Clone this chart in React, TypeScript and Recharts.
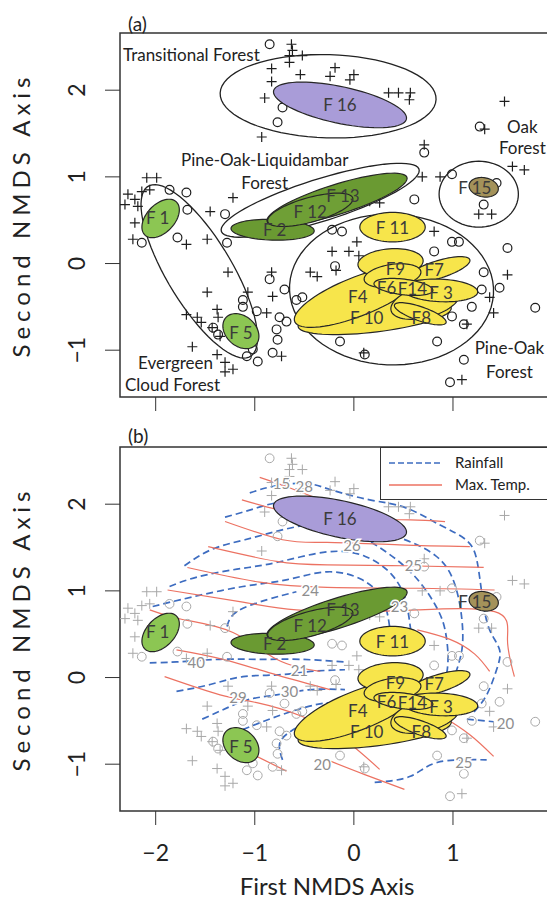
import React from "react";
import { ScatterChart, Scatter, XAxis, YAxis, ReferenceArea, Legend } from "recharts";

const FONT = "Lato, 'DejaVu Sans', sans-serif";
const BLUE = "#3d6cc0";
const RED = "#ec7262";

const X_DOMAIN: [number, number] = [-2.36, 2.08];
const Y_DOMAIN: [number, number] = [-1.54, 2.66];
const X_TICKS = [-2, -1, 0, 1];
const Y_TICKS = [-1, 0, 1, 2];

// site scores
const crossSites: [number, number][] = [
  [-0.63, 2.53], [-0.62, 2.46], [-0.65, 2.4], [-0.52, 2.4], [-0.65, 2.32], [-0.83, 2.25], [-0.83, 2.1],
  [-0.9, 1.91], [-0.54, 2.18], [-0.93, 1.46], [-0.19, 2.26], [-0.24, 2.16], [0.0, 2.18], [-0.04, 2.12],
  [0.35, 1.97], [0.45, 1.97], [0.57, 1.97], [0.56, 1.89], [1.52, 1.87], [1.32, 1.55], [0.71, 1.37],
  [0.69, 1.0], [0.87, 1.0], [1.6, 1.12], [1.72, 1.08], [1.26, 0.57], [1.39, 0.57], [0.26, 0.7],
  [-2.09, 0.99], [-1.99, 0.99], [-2.06, 0.85], [-2.14, 0.83], [-2.28, 0.8], [-2.21, 0.74], [-2.31, 0.68],
  [-2.18, 0.66], [-1.22, 0.76], [-1.45, 0.6], [-2.21, 0.47], [-2.23, 0.28], [-1.69, 0.22], [-1.48, 0.28],
  [-1.27, -0.1], [-1.48, -0.33], [-1.69, -0.59], [-1.58, -0.62], [-1.54, -0.68], [-1.38, -0.53],
  [-1.37, -0.62], [-1.43, -0.74], [-1.35, -0.84], [-1.63, -0.96], [-1.38, -1.05], [-1.3, -1.14],
  [-1.22, -1.22], [-1.3, -1.25], [-1.07, -0.33], [-0.88, -0.57], [-0.73, -1.07], [-0.83, -0.1],
  [-0.82, -0.38], [-0.44, -0.1], [-0.37, -0.15], [-0.44, -0.53], [0.03, 0.25], [-0.22, 0.14],
  [-0.05, 0.14], [0.81, 0.37], [1.55, -0.13], [1.37, -0.39], [1.41, -0.57], [1.14, -0.7], [0.1, -1.03],
  [1.09, -1.34], [-0.18, -0.08], [0.16, 0.72], [0.05, 0.09],
];

const circleSites: [number, number][] = [
  [-0.85, 2.53], [-0.72, 1.8], [-0.77, 1.63], [1.27, 1.58], [0.71, 1.28], [0.99, 1.03], [1.44, 0.93],
  [1.31, 0.68], [0.61, 0.74], [-1.86, 0.85], [-1.69, 0.82], [-1.68, 0.62], [-1.3, 0.57], [-2.14, 0.24],
  [-1.78, 0.3], [-1.28, 0.24], [-1.42, -0.74], [-1.37, -0.82], [-1.08, -1.07], [-0.97, -1.13],
  [-1.02, -0.99], [-1.12, -0.42], [-1.12, -0.5], [-0.98, -0.55], [-0.75, -0.62], [-0.68, -0.67],
  [-0.78, -0.76], [-0.77, -0.88], [-0.82, -1.03], [-0.85, -0.18], [-0.7, -0.3], [-0.58, -0.42],
  [-0.52, -0.39], [-0.22, 0.39], [-0.12, 0.37], [0.81, 0.14], [0.99, 0.25], [1.06, 0.25], [1.55, 0.18],
  [1.31, -0.1], [1.47, -0.28], [1.29, -0.3], [1.83, -0.51], [1.19, -0.5], [1.11, -0.7], [0.99, -0.61],
  [0.84, -0.9], [-0.14, -0.9], [0.11, -1.05], [1.11, -1.11], [0.97, -1.37], [-0.19, -0.03],
];

// forest-type groups (centre, semi-axes, tilt in degrees)
const groupRings = [
  { id: "transitional", x: -0.26, y: 1.93, a: 1.09, b: 0.48, angle: -2 },
  { id: "oak", x: 1.26, y: 0.8, a: 0.4, b: 0.38, angle: 0 },
  { id: "pineOakLiq", x: -0.34, y: 0.73, a: 1.06, b: 0.24, angle: 20 },
  { id: "evergreen", x: -1.56, y: -0.09, a: 1.11, b: 0.34, angle: -63 },
  { id: "pineOak", x: 0.38, y: -0.3, a: 1.03, b: 0.87, angle: -3 },
];

const forestEllipses = [
  { id: "F16", x: -0.14, y: 1.83, a: 0.69, b: 0.21, angle: -14 },
  { id: "F15", x: 1.31, y: 0.88, a: 0.15, b: 0.11, angle: -15 },
  { id: "F1", x: -1.95, y: 0.52, a: 0.25, b: 0.15, angle: 55 },
  { id: "F5", x: -1.14, y: -0.78, a: 0.22, b: 0.16, angle: -55 },
  { id: "F2", x: -0.82, y: 0.39, a: 0.42, b: 0.12, angle: -2 },
  { id: "F13", x: -0.17, y: 0.74, a: 0.75, b: 0.17, angle: 20 },
  { id: "F12", x: -0.44, y: 0.62, a: 0.45, b: 0.14, angle: 18 },
  { id: "F11", x: 0.39, y: 0.42, a: 0.33, b: 0.17, angle: 0 },
  { id: "F10", x: 0.21, y: -0.62, a: 0.78, b: 0.17, angle: 8 },
  { id: "F4", x: 0.04, y: -0.38, a: 0.7, b: 0.22, angle: 25 },
  { id: "F14", x: 0.72, y: -0.44, a: 0.36, b: 0.18, angle: 18 },
  { id: "F7", x: 0.85, y: -0.07, a: 0.34, b: 0.1, angle: 20 },
  { id: "F3", x: 0.87, y: -0.31, a: 0.38, b: 0.13, angle: -3 },
  { id: "F8", x: 0.67, y: -0.58, a: 0.28, b: 0.08, angle: -22 },
  { id: "F9", x: 0.37, y: 0.01, a: 0.33, b: 0.16, angle: 5 },
  { id: "F6", x: 0.39, y: -0.14, a: 0.29, b: 0.13, angle: 10 },
  { id: "F14b", x: 0.5, y: -0.27, a: 0.3, b: 0.09, angle: -8 },
];

const forestFill: Record<string, string> = {
  F16: "#a99cd8", F15: "#a4925a", F1: "#8cc653", F5: "#8cc653",
  F2: "#6a9a32", F13: "#6a9a32", F12: "#6f9f36",
};
const YELLOW = "#f7e54b";

const forestLabels = [
  { text: "F 16", x: -0.14, y: 1.83 }, { text: "F 15", x: 1.22, y: 0.88 }, { text: "F 13", x: -0.11, y: 0.78 },
  { text: "F 12", x: -0.44, y: 0.6 }, { text: "F 2", x: -0.8, y: 0.39 }, { text: "F 1", x: -1.98, y: 0.53 },
  { text: "F 5", x: -1.14, y: -0.8 }, { text: "F 11", x: 0.39, y: 0.42 }, { text: "F9", x: 0.42, y: -0.06 },
  { text: "F7", x: 0.81, y: -0.07 }, { text: "F6", x: 0.33, y: -0.28 }, { text: "F14", x: 0.59, y: -0.29 },
  { text: "F 3", x: 0.88, y: -0.33 }, { text: "F4", x: 0.04, y: -0.38 }, { text: "F 10", x: 0.13, y: -0.62 },
  { text: "F8", x: 0.68, y: -0.62 },
];

const groupLabels = [
  { text: "Transitional Forest", x: -2.33, y: 2.41, anchor: "start" },
  { text: "Pine-Oak-Liquidambar", x: -0.9, y: 1.2, anchor: "middle" },
  { text: "Forest", x: -0.9, y: 0.93, anchor: "middle" },
  { text: "Oak", x: 1.7, y: 1.58, anchor: "middle" },
  { text: "Forest", x: 1.7, y: 1.34, anchor: "middle" },
  { text: "Evergreen", x: -1.8, y: -1.14, anchor: "middle" },
  { text: "Cloud Forest", x: -1.83, y: -1.4, anchor: "middle" },
  { text: "Pine-Oak", x: 1.57, y: -0.97, anchor: "middle" },
  { text: "Forest", x: 1.57, y: -1.25, anchor: "middle" },
];

// climate isolines fitted on the ordination (panel b)
const rainfallLines: [number, number][][] = [
  [[-1.05, 2.13], [-0.8, 2.21], [-0.49, 2.24], [-0.24, 2.17], [0.16, 2.05], [0.52, 1.96], [0.87, 1.76], [1.15, 1.57], [1.25, 1.3], [1.3, 0.9], [1.37, 0.55], [1.47, 0.32], [1.44, 0.09], [1.34, -0.2], [1.21, -0.4]],
  [[-1.3, 1.85], [-1.0, 1.95], [-0.7, 2.02], [-0.34, 1.91], [0.06, 1.73], [0.41, 1.63], [0.82, 1.41], [1.02, 1.07], [1.09, 0.67], [1.09, 0.32], [1.02, 0.03]],
  [[-1.71, 1.29], [-1.43, 1.48], [-1.1, 1.59], [-0.7, 1.71], [-0.27, 1.76], [0.16, 1.57], [0.57, 1.22], [0.82, 0.84], [0.92, 0.55], [0.95, 0.21], [0.92, -0.05]],
  [[-1.86, 1.05], [-1.58, 1.16], [-1.18, 1.25], [-0.77, 1.33], [-0.27, 1.45], [0.11, 1.4], [0.38, 1.19], [0.52, 0.9], [0.57, 0.58], [0.62, 0.25]],
  [[-2.03, 0.82], [-1.63, 0.93], [-1.12, 1.05], [-0.67, 1.13], [-0.27, 1.22], [0.08, 1.13], [0.29, 0.9], [0.36, 0.59]],
  [[-1.28, 0.59], [-1.18, 0.76], [-0.87, 0.9], [-0.58, 0.99]],
  [[-2.06, 0.17], [-1.79, 0.18], [-1.35, 0.21], [-0.95, 0.21], [-0.55, 0.21], [-0.09, 0.18]],
  [[-1.79, -0.16], [-1.45, -0.08], [-1.12, 0.01], [-0.78, 0.03], [-0.44, 0.07], [-0.09, 0.09]],
  [[-1.53, -0.48], [-1.28, -0.35], [-1.05, -0.25], [-0.78, -0.2], [-0.44, -0.14], [-0.09, -0.14]],
  [[-1.12, -0.6], [-0.78, -0.45], [-0.37, -0.31], [-0.09, -0.29]],
  [[-0.72, -0.95], [-0.75, -0.77], [-0.65, -0.63], [-0.44, -0.51], [-0.19, -0.43]],
  [[0.21, -1.21], [0.57, -1.14], [0.84, -0.98], [1.34, -0.95]],
  [[1.14, -0.48], [1.41, -0.51]],
];

const maxTempLines: [number, number][][] = [
  [[-0.95, 2.31], [-0.65, 2.19], [-0.29, 2.03], [0.01, 1.9]],
  [[-1.13, 2.05], [-0.78, 1.94], [-0.34, 1.85], [0.13, 1.82], [0.57, 1.82], [0.92, 1.8]],
  [[-1.3, 1.8], [-0.72, 1.59], [-0.27, 1.56], [0.46, 1.53], [1.17, 1.51]],
  [[-1.47, 1.51], [-0.78, 1.34], [-0.27, 1.3], [0.51, 1.29], [1.31, 1.27]],
  [[-1.68, 1.27], [-0.95, 1.1], [-0.27, 1.04], [0.64, 1.03], [1.42, 1.01]],
  [[-1.88, 1.01], [-1.12, 0.87], [-0.58, 0.78], [0.06, 0.76], [0.64, 0.78], [1.42, 0.76], [1.55, 0.44], [1.62, 0.01]],
  [[-2.06, 0.78], [-1.73, 0.67], [-1.22, 0.52], [-0.78, 0.21], [-0.34, 0.07]],
  [[-1.79, 0.32], [-1.32, 0.21], [-0.78, 0.03], [-0.24, -0.14]],
  [[-1.91, 0.01], [-1.35, -0.2], [-0.98, -0.29], [-0.52, -0.45], [-0.09, -0.72], [0.26, -1.06]],
  [[-0.27, -0.95], [0.11, -1.12], [0.51, -1.29]],
  [[-1.12, -0.83], [-0.68, -1.08]],
  [[0.87, -0.43], [1.17, -0.66], [1.41, -0.91]],
  [[0.64, 0.55], [0.97, 0.44], [1.22, 0.27], [1.37, 0.07]],
];

const isolineLabels = [
  { text: "15", x: -0.73, y: 2.24 }, { text: "28", x: -0.5, y: 2.21 }, { text: "26", x: -0.02, y: 1.53 },
  { text: "25", x: 0.6, y: 1.3 }, { text: "24", x: -0.44, y: 1.01 }, { text: "23", x: 0.46, y: 0.82 },
  { text: "40", x: -1.59, y: 0.18 }, { text: "21", x: -0.55, y: 0.09 }, { text: "30", x: -0.65, y: -0.16 },
  { text: "29", x: -1.17, y: -0.23 }, { text: "20", x: -0.32, y: -1.0 }, { text: "20", x: 1.53, y: -0.52 },
  { text: "25", x: 1.11, y: -0.97 },
];

type Ell = { id: string; x: number; y: number; a: number; b: number; angle: number };

const toXY = (pairs: [number, number][]) => pairs.map(([x, y]) => ({ x, y }));

function outline(e: Ell) {
  const th = (e.angle * Math.PI) / 180;
  const pts = [];
  for (let i = 0; i < 72; i++) {
    const t = (i / 72) * 2 * Math.PI;
    const u = e.a * Math.cos(t);
    const v = e.b * Math.sin(t);
    pts.push({ x: e.x + u * Math.cos(th) - v * Math.sin(th), y: e.y + u * Math.sin(th) + v * Math.cos(th) });
  }
  return pts;
}

const noMark = () => <g />;

const closedPath = (fill: string, stroke: string, width: number) => (p: any) => {
  const d = p.points.map((q: any, i: number) => `${i ? "L" : "M"}${q.x},${q.y}`).join("") + "Z";
  return <path d={d} fill={fill} stroke={stroke} strokeWidth={width} />;
};

const crossShape = (color: string, w: number) => (p: any) => (
  <path d={`M${p.cx - 5},${p.cy}H${p.cx + 5}M${p.cx},${p.cy - 5}V${p.cy + 5}`} stroke={color} strokeWidth={w} fill="none" />
);
const ringShape = (color: string, w: number) => (p: any) => (
  <circle cx={p.cx} cy={p.cy} r={4.4} stroke={color} strokeWidth={w} fill="none" />
);

const textShape = (size: number, color: string, halo = false) => (p: any) => (
  <text
    x={p.cx}
    y={p.cy}
    textAnchor={p.payload.anchor ?? "middle"}
    dominantBaseline="central"
    fontFamily={FONT}
    fontSize={size}
    fill={color}
    stroke={halo ? "#fff" : undefined}
    strokeWidth={halo ? 3 : undefined}
    paintOrder="stroke"
  >
    {p.payload.text}
  </text>
);

const fmt = (v: number) => (v < 0 ? `\u2212${Math.abs(v)}` : `${v}`);

const YTick = (p: any) => (
  <text x={76} y={p.y} transform={`rotate(-90 76 ${p.y})`} textAnchor="middle" dominantBaseline="central" fontFamily={FONT} fontSize={23} fill="#222">
    {fmt(p.payload.value)}
  </text>
);
const XTick = (p: any) => (
  <text x={p.x} y={438} textAnchor="middle" dominantBaseline="central" fontFamily={FONT} fontSize={23} fill="#222">
    {fmt(p.payload.value)}
  </text>
);

const yTitle = () => (
  <text x={20} y={215} transform="rotate(-90 20 215)" textAnchor="middle" dominantBaseline="central" fontFamily={FONT} fontSize={24} letterSpacing={5} fill="#222">
    Second NMDS Axis
  </text>
);
const xTitle = () => (
  <text x={327} y={471} textAnchor="middle" dominantBaseline="central" fontFamily={FONT} fontSize={24} fill="#222">
    First NMDS Axis
  </text>
);

function LegendBox() {
  return (
    <div style={{ position: "relative", width: 190, height: 53, border: "1.5px solid #333", background: "#fff", boxSizing: "border-box", fontFamily: FONT, fontSize: 15, color: "#222" }}>
      <svg width={70} height={50} style={{ position: "absolute", left: 0, top: 0 }}>
        <line x1={8} x2={61} y1={15} y2={15} stroke={BLUE} strokeWidth={1.7} strokeDasharray="6 3" />
        <line x1={8} x2={61} y1={37} y2={37} stroke={RED} strokeWidth={1.3} />
      </svg>
      <span style={{ position: "absolute", left: 74, top: 5 }}>Rainfall</span>
      <span style={{ position: "absolute", left: 74, top: 27 }}>Max. Temp.</span>
    </div>
  );
}

function Panel({ kind }: { kind: "a" | "b" }) {
  const isA = kind === "a";
  const ptColor = isA ? "#1e1e1e" : "#a8a8a8";
  const ptWidth = isA ? 1.2 : 1;
  return (
    <ScatterChart width={560} height={isA ? 414 : 496} margin={{ top: 33, right: 0, bottom: 0, left: 0 }}>
      <XAxis
        type="number"
        dataKey="x"
        domain={X_DOMAIN}
        ticks={X_TICKS}
        interval={0}
        allowDataOverflow
        height={isA ? 17 : 99}
        tickSize={14}
        tickMargin={0}
        axisLine={false}
        stroke="#333"
        tick={isA ? noMark : XTick}
        label={isA ? undefined : xTitle}
      />
      <YAxis
        type="number"
        dataKey="y"
        domain={Y_DOMAIN}
        ticks={Y_TICKS}
        interval={0}
        allowDataOverflow
        width={120}
        tickSize={15}
        axisLine={false}
        stroke="#333"
        tick={YTick}
        label={yTitle}
      />

      {!isA &&
        rainfallLines.map((l, i) => (
          <Scatter key={`rain-${i}`} data={toXY(l)} shape={noMark} isAnimationActive={false} lineJointType="natural" line={{ stroke: BLUE, strokeWidth: 1.7, strokeDasharray: "7 4" }} />
        ))}
      {!isA &&
        maxTempLines.map((l, i) => (
          <Scatter key={`temp-${i}`} data={toXY(l)} shape={noMark} isAnimationActive={false} lineJointType="natural" line={{ stroke: RED, strokeWidth: 1.2 }} />
        ))}

      <Scatter data={toXY(crossSites)} shape={crossShape(ptColor, ptWidth)} isAnimationActive={false} />
      <Scatter data={toXY(circleSites)} shape={ringShape(ptColor, ptWidth)} isAnimationActive={false} />

      {isA &&
        groupRings.map((g) => (
          <Scatter key={g.id} data={outline(g)} shape={noMark} isAnimationActive={false} line={closedPath("none", "#222", 1.3)} />
        ))}

      {forestEllipses.map((e) => (
        <Scatter key={e.id} data={outline(e)} shape={noMark} isAnimationActive={false} line={closedPath(forestFill[e.id] ?? YELLOW, "#262626", 1.2)} />
      ))}

      <Scatter data={forestLabels} shape={textShape(17, "#3b3b3b")} isAnimationActive={false} />
      {isA && <Scatter data={groupLabels} shape={textShape(17, "#222")} isAnimationActive={false} />}
      {!isA && <Scatter data={isolineLabels} shape={textShape(15, "#8e8e8e", true)} isAnimationActive={false} />}

      <ReferenceArea x1={X_DOMAIN[0]} x2={X_DOMAIN[1]} y1={Y_DOMAIN[0]} y2={Y_DOMAIN[1]} fill="none" stroke="#333" strokeWidth={1.5} />

      {!isA && (
        <Legend
          layout="horizontal"
          verticalAlign="middle"
          align="center"
          wrapperStyle={{ left: 380, top: 33, width: 190 }}
          content={() => <LegendBox />}
        />
      )}
    </ScatterChart>
  );
}

export default function App() {
  return (
    <div style={{ position: "absolute", left: 0, top: 0, width: 547, height: 910, overflow: "hidden", background: "#fff", fontFamily: FONT }}>
      <div style={{ position: "absolute", left: 0, top: 0 }}>
        <Panel kind="a" />
      </div>
      <div style={{ position: "absolute", left: 0, top: 414 }}>
        <Panel kind="b" />
      </div>
      <div style={{ position: "absolute", left: 128, top: 12, fontSize: 19, color: "#222" }}>(a)</div>
      <div style={{ position: "absolute", left: 128, top: 424, fontSize: 19, color: "#222" }}>(b)</div>
    </div>
  );
}
